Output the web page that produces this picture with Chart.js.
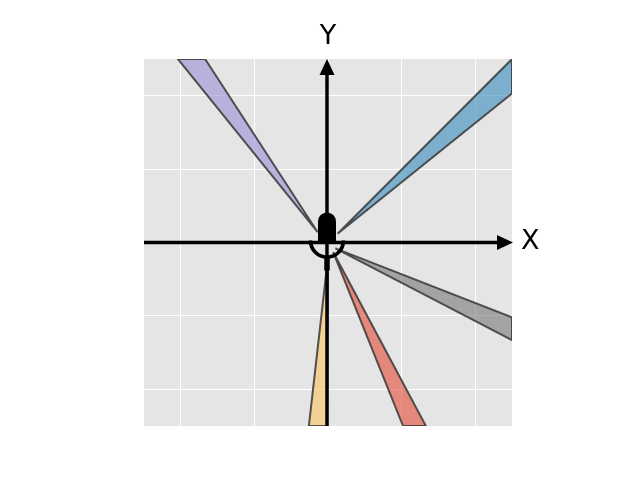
<!DOCTYPE html>
<html>
<head>
<meta charset="utf-8">
<script src="https://cdn.jsdelivr.net/npm/chart.js@4/dist/chart.umd.min.js"></script>
<style>
  html, body { margin: 0; padding: 0; background: #fff; }
  #wrap { width: 640px; height: 480px; }
</style>
</head>
<body>
<div id="wrap"><canvas id="chart" width="640" height="480"></canvas></div>
<script>
// axis range and grid ticks
const axisMin = -2.5;
const axisMax = 2.5;
const gridTicks = [-2, -1, 0, 1, 2];

// wedge outlines (x, y pairs in data units, closed later)
const wedgeNames = ['blue', 'purple', 'gray', 'yellow', 'red'];
const wedgeX = [
    [0.13, 2.5, 2.5],
    [-0.14, -2.04, -1.67],
    [0.1, 2.5, 2.5],
    [0.0, -0.26, -0.01],
    [0.07, 1.02, 1.33],
];
const wedgeY = [
    [0.12, 2.5, 2.03],
    [0.14, 2.5, 2.5],
    [-0.08, -1.02, -1.33],
    [-0.2, -2.5, -2.5],
    [-0.13, -2.5, -2.5],
];
const wedgeColors = [
    'rgba(52,138,189,0.6)',
    'rgba(152,142,213,0.6)',
    'rgba(119,119,119,0.6)',
    'rgba(251,193,94,0.6)',
    'rgba(226,74,51,0.6)',
];

// marker at the origin (data units)
const micTop = 0.41;
const micBottom = -0.02;
const cradleY = 0.027;
const axisLabels = ['X', 'Y'];

const datasets = wedgeNames.map((name, i) => {
    const pts = wedgeX[i].map((x, j) => ({ x: x, y: wedgeY[i][j] }));
    pts.push(pts[0]);
    return {
        label: name,
        data: pts,
        showLine: true,
        fill: 'shape',
        backgroundColor: wedgeColors[i],
        borderColor: 'rgba(55,55,55,0.85)',
        borderWidth: 2,
        borderJoinStyle: 'miter',
        pointRadius: 0,
        tension: 0,
    };
});

const panelBg = {
    id: 'panelBg',
    beforeDraw(chart) {
        const a = chart.chartArea;
        const ctx = chart.ctx;
        ctx.save();
        ctx.fillStyle = '#E5E5E5';
        ctx.fillRect(a.left, a.top, a.right - a.left, a.bottom - a.top);
        ctx.restore();
    }
};

const arrowAxes = {
    id: 'arrowAxes',
    afterDatasetsDraw(chart) {
        const ctx = chart.ctx;
        const xs = chart.scales.x, ys = chart.scales.y;
        const a = chart.chartArea;
        const cx = xs.getPixelForValue(0) - 1;
        const cy = ys.getPixelForValue(0);
        ctx.save();
        ctx.strokeStyle = '#000';
        ctx.fillStyle = '#000';
        ctx.lineWidth = 3.5;
        // x axis
        ctx.beginPath();
        ctx.moveTo(a.left, cy);
        ctx.lineTo(a.right - 10, cy);
        ctx.stroke();
        ctx.beginPath();
        ctx.moveTo(a.right + 1, cy);
        ctx.lineTo(a.right - 15, cy - 7.5);
        ctx.lineTo(a.right - 15, cy + 7.5);
        ctx.closePath();
        ctx.fill();
        // y axis
        ctx.beginPath();
        ctx.moveTo(cx, a.bottom);
        ctx.lineTo(cx, a.top + 10);
        ctx.stroke();
        ctx.beginPath();
        ctx.moveTo(cx, a.top);
        ctx.lineTo(cx - 7.5, a.top + 16);
        ctx.lineTo(cx + 7.5, a.top + 16);
        ctx.closePath();
        ctx.fill();

        // capsule marker
        const t = ys.getPixelForValue(micTop);
        const b = ys.getPixelForValue(micBottom);
        const w = 18, r = w / 2;
        ctx.beginPath();
        ctx.moveTo(cx - r, b);
        ctx.lineTo(cx - r, t + r);
        ctx.arc(cx, t + r, r, Math.PI, 0);
        ctx.lineTo(cx + r, b);
        ctx.closePath();
        ctx.fill();
        // cradle arc and stem
        const ay = ys.getPixelForValue(cradleY);
        ctx.lineWidth = 3.7;
        ctx.beginPath();
        ctx.arc(cx, ay, 16.5, 0, Math.PI);
        ctx.stroke();
        ctx.lineWidth = 5.5;
        ctx.beginPath();
        ctx.moveTo(cx, ay + 16);
        ctx.lineTo(cx, ay + 30);
        ctx.stroke();

        // labels
        ctx.font = '27px "DejaVu Sans"';
        ctx.textBaseline = 'middle';
        ctx.textAlign = 'left';
        ctx.fillText(axisLabels[0], a.right + 9, cy - 1);
        ctx.textAlign = 'center';
        ctx.fillText(axisLabels[1], cx + 1, a.top - 22);
        ctx.restore();
    }
};

const scaleOpts = {
    type: 'linear',
    min: axisMin,
    max: axisMax,
    afterBuildTicks: (scale) => { scale.ticks = gridTicks.map(v => ({ value: v })); },
    ticks: { display: false },
    grid: { color: '#FFFFFF', lineWidth: 1, drawTicks: false, tickLength: 0 },
    border: { display: false },
};

new Chart(document.getElementById('chart'), {
    type: 'scatter',
    data: { datasets: datasets },
    options: {
        responsive: false,
        animation: false,
        layout: { padding: { left: 144, right: 128, top: 59, bottom: 54 } },
        plugins: { legend: { display: false }, tooltip: { enabled: false } },
        scales: { x: scaleOpts, y: scaleOpts },
    },
    plugins: [panelBg, arrowAxes],
});
</script>
</body>
</html>
